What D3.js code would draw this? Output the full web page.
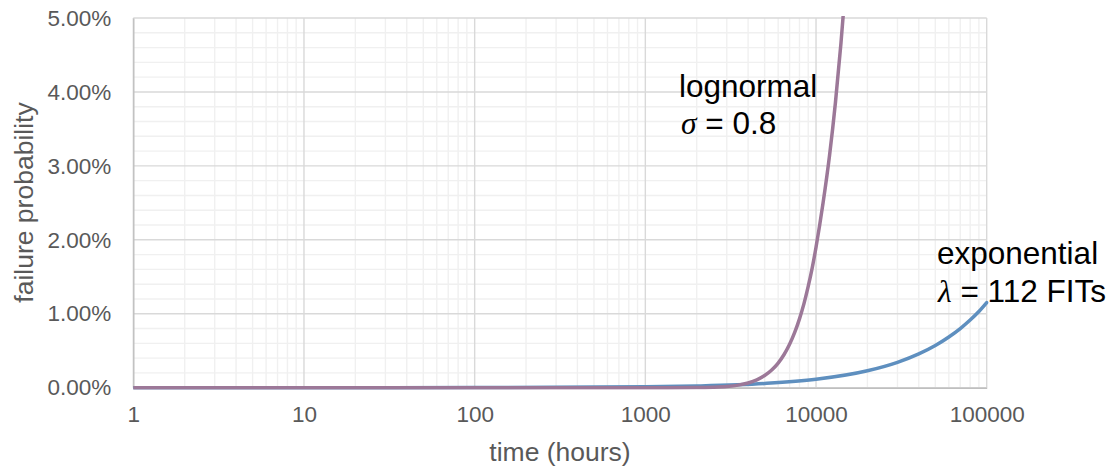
<!DOCTYPE html>
<html>
<head>
<meta charset="utf-8">
<script src="https://cdn.jsdelivr.net/npm/d3@7"></script>
<style>
  body { margin: 0; background: #fff; }
  svg { display: block; font-family: "Liberation Sans", Arial, sans-serif; }
</style>
</head>
<body>
<svg width="1112" height="468"></svg>
<script>
// values (time in hours, failure probability in %)
const lognormalTime = [1, 10, 100, 1000, 2000, 2500, 3000, 3500, 4000, 4500, 5000, 5500, 6000, 6500, 7000, 7500, 8000, 8500, 9000, 9500, 10000, 11000, 12000, 13000, 14000, 15000]
const lognormalProb = [0, 0, 0, 0, 0.002, 0.007, 0.017, 0.035, 0.064, 0.106, 0.164, 0.239, 0.333, 0.449, 0.587, 0.747, 0.931, 1.137, 1.369, 1.62, 1.90, 2.50, 3.14, 3.86, 4.66, 5.52]

const expTime = [1, 10, 100, 1000, 2000, 5000, 10000, 20000, 30000, 40000, 50000, 60000, 70000, 80000, 90000, 100000]
const expProb = [0, 0.0001, 0.0011, 0.0114, 0.023, 0.057, 0.114, 0.229, 0.343, 0.457, 0.571, 0.686, 0.800, 0.915, 1.03, 1.15]

const xTicks = [1, 10, 100, 1000, 10000, 100000]
const yTicks = [0, 1, 2, 3, 4, 5]

// Canvas setup
let svg = d3.select('svg')
let plotLeft = 133.3, plotRight = 986.7, plotTop = 18, plotBottom = 387.7

let xScale = d3.scaleLog().domain([1, 100000]).range([plotLeft, plotRight])
let yScale = d3.scaleLinear().domain([0, 5]).range([plotBottom, plotTop])

// minor gridlines
let minorX = []
for (let d = 1; d < 100000; d *= 10) {
    for (let k = 2; k <= 9; k++) minorX.push(d * k)
}
let minorY = d3.range(0, 5.0001, 0.2).filter(v => Math.abs(v - Math.round(v)) > 0.01)

let grid = svg.append('g')
grid.selectAll('.mx').data(minorX).enter().append('line')
    .attr('x1', d => xScale(d)).attr('x2', d => xScale(d))
    .attr('y1', plotTop).attr('y2', plotBottom)
    .attr('stroke', '#f0f0f0').attr('stroke-width', 1.4)
grid.selectAll('.my').data(minorY).enter().append('line')
    .attr('x1', plotLeft).attr('x2', plotRight)
    .attr('y1', d => yScale(d)).attr('y2', d => yScale(d))
    .attr('stroke', '#f0f0f0').attr('stroke-width', 1.4)
grid.selectAll('.MX').data(xTicks).enter().append('line')
    .attr('x1', d => xScale(d)).attr('x2', d => xScale(d))
    .attr('y1', plotTop).attr('y2', plotBottom)
    .attr('stroke', '#d9d9d9').attr('stroke-width', 1.4)
grid.selectAll('.MY').data(yTicks).enter().append('line')
    .attr('x1', plotLeft).attr('x2', plotRight)
    .attr('y1', d => yScale(d)).attr('y2', d => yScale(d))
    .attr('stroke', '#d9d9d9').attr('stroke-width', 1.4)

// axes
let xAxis = d3.axisBottom(xScale).tickValues(xTicks).tickFormat(d3.format('d')).tickSize(0).tickPadding(18)
let gx = svg.append('g').attr('transform', 'translate(0,' + plotBottom + ')').call(xAxis)
gx.select('.domain').attr('stroke', '#bfbfbf').attr('stroke-width', 1.4)
gx.selectAll('text').attr('fill', '#595959').style('font-size', '22.5px').style('font-family', '"Liberation Sans", Arial, sans-serif')

let yAxis = d3.axisLeft(yScale).tickValues(yTicks).tickFormat(d => d.toFixed(2) + '%').tickSize(0).tickPadding(22)
let gy = svg.append('g').attr('transform', 'translate(' + plotLeft + ',0)').call(yAxis)
gy.select('.domain').attr('stroke', '#bfbfbf').attr('stroke-width', 1.4)
gy.selectAll('text').attr('fill', '#595959').style('font-size', '22.5px').style('font-family', '"Liberation Sans", Arial, sans-serif')

// axis titles
svg.append('text').attr('x', (plotLeft + plotRight) / 2).attr('y', 461)
    .attr('text-anchor', 'middle').attr('fill', '#595959').style('font-size', '26.5px')
    .text('time (hours)')
svg.append('text').attr('transform', 'translate(33,' + 202.5 + ') rotate(-90)')
    .attr('text-anchor', 'middle').attr('fill', '#595959').style('font-size', '26.5px')
    .text('failure probability')

// clip to the plot area
svg.append('clipPath').attr('id', 'plot').append('rect')
    .attr('x', plotLeft).attr('y', plotTop - 2).attr('width', plotRight - plotLeft + 2).attr('height', plotBottom - plotTop + 4)

let line = d3.line()
    .x(d => xScale(d[0]))
    .y(d => yScale(d[1]))
    .curve(d3.curveMonotoneX)

let series = [
    { pts: d3.zip(expTime, expProb), color: '#5e8fbf' },
    { pts: d3.zip(lognormalTime, lognormalProb), color: '#9c7898' }
]
svg.append('g').attr('clip-path', 'url(#plot)')
    .selectAll('path').data(series).enter().append('path')
    .attr('d', d => line(d.pts))
    .attr('fill', 'none')
    .attr('stroke', d => d.color)
    .attr('stroke-width', 3.5)
    .attr('stroke-linecap', 'round')

// annotations
function label(x, y, greek, rest) {
    let t = svg.append('text').attr('x', x).attr('y', y).attr('fill', '#000').style('font-size', '31.5px')
    if (greek) {
        t.append('tspan').style('font-family', '"Liberation Serif", "DejaVu Serif", serif').style('font-style', 'italic').text(greek)
    }
    t.append('tspan').text(rest)
}
label(679, 96.5, null, 'lognormal')
label(681, 133.5, 'σ', ' = 0.8')
label(937, 263.5, null, 'exponential')
label(938, 301.5, 'λ', ' = 112 FITs')
</script>
</body>
</html>
